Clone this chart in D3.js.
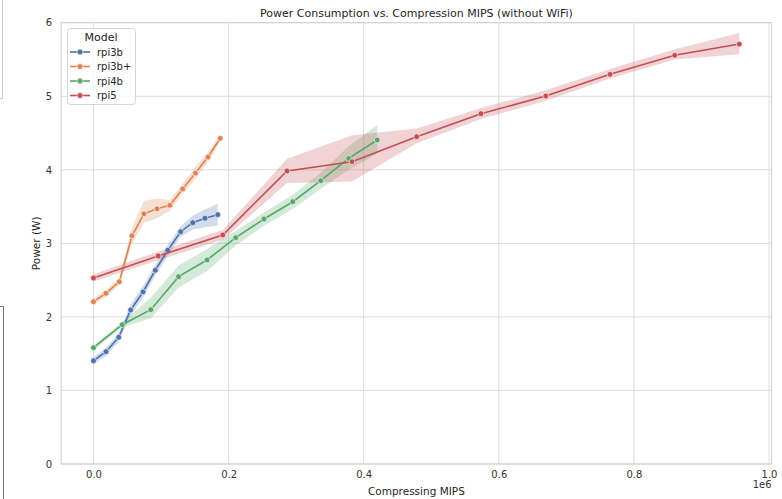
<!DOCTYPE html>
<html><head><meta charset="utf-8">
<script src="https://cdn.jsdelivr.net/npm/d3@7"></script>
<style>body{margin:0;background:#fff}svg{display:block;font-family:"DejaVu Sans",sans-serif}</style>
</head><body><svg id="c" width="782" height="499"></svg>
<script>
const models = ["rpi3b","rpi3b+","rpi4b","rpi5"];
const colors = ["#4c72b0","#dd8452","#55a868","#c44e52"];
// x in units of 1e6 MIPS
const rpi3bX = [0,0.0185,0.0373,0.055,0.0733,0.0915,0.110,0.129,0.147,0.165,0.184];
const rpi3bY = [1.404,1.527,1.723,2.094,2.339,2.634,2.906,3.158,3.281,3.341,3.39];
const rpi3bLo = [1.36,1.47,1.66,2.02,2.26,2.56,2.83,3.09,3.19,3.22,3.24];
const rpi3bHi = [1.45,1.58,1.78,2.17,2.42,2.71,2.98,3.23,3.38,3.46,3.54];
const rpi3bpX = [0,0.0185,0.0382,0.057,0.0747,0.094,0.113,0.132,0.151,0.1695,0.1876];
const rpi3bpY = [2.207,2.321,2.479,3.103,3.402,3.47,3.519,3.739,3.956,4.174,4.428];
const rpi3bpLo = [2.17,2.27,2.43,2.99,3.28,3.34,3.44,3.67,3.88,4.10,4.38];
const rpi3bpHi = [2.25,2.37,2.53,3.22,3.58,3.61,3.59,3.81,4.04,4.24,4.48];
const rpi4bX = [0,0.0425,0.0848,0.126,0.168,0.2105,0.2524,0.295,0.3364,0.3777,0.42];
const rpi4bY = [1.581,1.894,2.098,2.547,2.774,3.077,3.331,3.566,3.852,4.156,4.405];
const rpi4bLo = [1.55,1.86,1.98,2.40,2.62,2.97,3.24,3.47,3.74,4.00,4.22];
const rpi4bHi = [1.61,1.93,2.26,2.70,2.92,3.17,3.42,3.66,3.96,4.32,4.61];
const rpi5X = [0,0.0958,0.1914,0.2865,0.3827,0.4785,0.5736,0.6695,0.7646,0.8604,0.956];
const rpi5Y = [2.529,2.828,3.114,3.984,4.11,4.45,4.763,5.003,5.298,5.557,5.71];
const rpi5Lo = [2.48,2.77,3.05,3.82,3.84,4.36,4.69,4.94,5.24,5.50,5.57];
const rpi5Hi = [2.58,2.89,3.18,4.15,4.47,4.56,4.84,5.08,5.37,5.64,5.86];
const xTicks = [0,0.2,0.4,0.6,0.8,1.0];
const yTicks = [0,1,2,3,4,5,6];
const title = "Power Consumption vs. Compression MIPS (without WiFi)";
const xLabel = "Compressing MIPS";
const yLabel = "Power (W)";

const series = [
  {x:rpi3bX,y:rpi3bY,lo:rpi3bLo,hi:rpi3bHi},
  {x:rpi3bpX,y:rpi3bpY,lo:rpi3bpLo,hi:rpi3bpHi},
  {x:rpi4bX,y:rpi4bY,lo:rpi4bLo,hi:rpi4bHi},
  {x:rpi5X,y:rpi5Y,lo:rpi5Lo,hi:rpi5Hi}
];

const svg = d3.select("#c");
const L=61.2, R=771.6, T=22.7, B=464;
const x = d3.scaleLinear().domain([-0.0478,1.0038]).range([L,R]);
const y = d3.scaleLinear().domain([0,6]).range([B,T]);

// artifacts at left edge
svg.append("path").attr("d","M0,98.5H2.5V0").attr("fill","none").attr("stroke","#c8c8c8").attr("stroke-width",1);
svg.append("path").attr("d","M0,306.5H3.5V499").attr("fill","none").attr("stroke","#777").attr("stroke-width",1);

// grid
const g = svg.append("g");
g.selectAll(".gx").data(xTicks).join("line").attr("x1",d=>x(d)).attr("x2",d=>x(d)).attr("y1",T).attr("y2",B).attr("stroke","#dcdcdc").attr("stroke-width",1);
g.selectAll(".gy").data(yTicks).join("line").attr("y1",d=>y(d)).attr("y2",d=>y(d)).attr("x1",L).attr("x2",R).attr("stroke","#dcdcdc").attr("stroke-width",1);
// spines
svg.append("rect").attr("x",L).attr("y",T).attr("width",R-L).attr("height",B-T).attr("fill","none").attr("stroke","#cfcfcf").attr("stroke-width",1);

// axes tick labels via d3 axes
const xAxis = d3.axisBottom(x).tickValues(xTicks).tickFormat(d3.format(".1f")).tickSize(0).tickPadding(7);
const yAxis = d3.axisLeft(y).tickValues(yTicks).tickFormat(d3.format("d")).tickSize(0).tickPadding(9);
const gx = svg.append("g").attr("transform",`translate(0,${B})`).call(xAxis);
const gy = svg.append("g").attr("transform",`translate(${L},0)`).call(yAxis);
[gx,gy].forEach(a=>{a.select(".domain").remove();a.selectAll("text").attr("fill","#333").attr("font-size",10).attr("font-family","DejaVu Sans");});

// bands, lines, markers
series.forEach((s,i)=>{
  const pts = s.x.map((v,j)=>({x:v,y:s.y[j],lo:s.lo[j],hi:s.hi[j]}));
  svg.append("path").datum(pts).attr("d",d3.area().x(d=>x(d.x)).y0(d=>y(d.lo)).y1(d=>y(d.hi)))
    .attr("fill",colors[i]).attr("fill-opacity",0.25).attr("stroke","none");
});
series.forEach((s,i)=>{
  const pts = s.x.map((v,j)=>({x:v,y:s.y[j]}));
  svg.append("path").datum(pts).attr("d",d3.line().x(d=>x(d.x)).y(d=>y(d.y)))
    .attr("fill","none").attr("stroke",colors[i]).attr("stroke-width",1.6);
  svg.append("g").selectAll("circle").data(pts).join("circle").attr("cx",d=>x(d.x)).attr("cy",d=>y(d.y)).attr("r",2.9)
    .attr("fill",colors[i]).attr("stroke","#fff").attr("stroke-width",0.6);
});

// texts
svg.append("text").attr("x",(L+R)/2).attr("y",17).attr("text-anchor","middle").attr("font-size",11).attr("fill","#262626").text(title);
svg.append("text").attr("x",(L+R)/2).attr("y",495).attr("text-anchor","middle").attr("font-size",10.5).attr("fill","#262626").text(xLabel);
svg.append("text").attr("transform",`translate(40,${(T+B)/2}) rotate(-90)`).attr("text-anchor","middle").attr("font-size",10.5).attr("fill","#262626").text(yLabel);
svg.append("text").attr("x",R).attr("y",488).attr("text-anchor","end").attr("font-size",10).attr("fill","#333").text("1e6");

// legend
const lg = svg.append("g");
lg.append("rect").attr("x",67.5).attr("y",28.5).attr("width",68).attr("height",76).attr("rx",3).attr("fill","#fff").attr("fill-opacity",0.8).attr("stroke","#d6d6d6");
lg.append("text").attr("x",101).attr("y",41).attr("text-anchor","middle").attr("font-size",11).attr("fill","#262626").text("Model");
models.forEach((m,i)=>{
  const yy = 52 + i*14.5;
  lg.append("line").attr("x1",70).attr("x2",90).attr("y1",yy).attr("y2",yy).attr("stroke",colors[i]).attr("stroke-width",1.6);
  lg.append("circle").attr("cx",80).attr("cy",yy).attr("r",2.9).attr("fill",colors[i]).attr("stroke","#fff").attr("stroke-width",0.6);
  lg.append("text").attr("x",97).attr("y",yy+3.5).attr("font-size",10).attr("fill","#262626").text(m);
});
</script></body></html>
